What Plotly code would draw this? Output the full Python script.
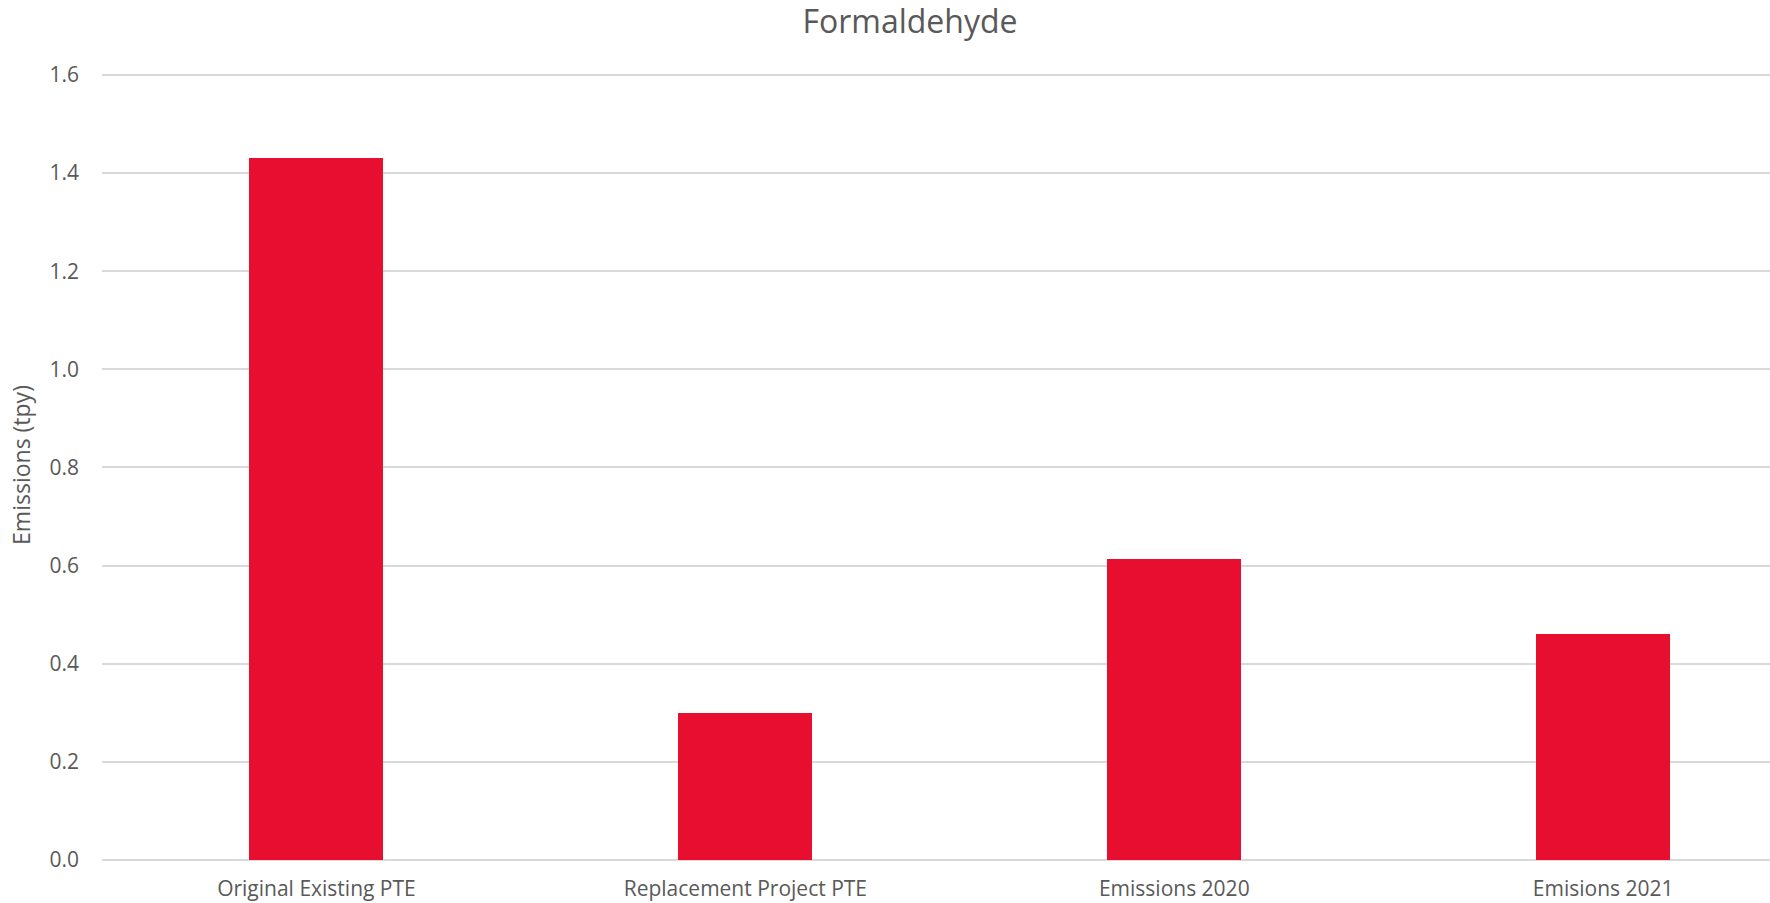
import plotly.graph_objects as go

categories = ["Original Existing PTE", "Replacement Project PTE", "Emissions 2020", "Emisions 2021"]
values = [1.43, 0.30, 0.613, 0.46]
y_ticks = [0.0, 0.2, 0.4, 0.6, 0.8, 1.0, 1.2, 1.4, 1.6]
y_tick_labels = ["0.0", "0.2", "0.4", "0.6", "0.8", "1.0", "1.2", "1.4", "1.6"]

W, H = 1770, 903
GRAY = "#595959"

fig = go.Figure(go.Bar(
    x=list(range(len(categories))),
    y=values,
    width=0.3125,
    marker=dict(color="#E80E30", line=dict(width=0)),
    hoverinfo="y",
))

fig.update_layout(
    width=W, height=H,
    margin=dict(l=102, r=0, t=70, b=43, pad=0, autoexpand=False),
    paper_bgcolor="white", plot_bgcolor="white",
    showlegend=False,
    font=dict(family="Open Sans, sans-serif", color=GRAY),
    title=dict(text="Formaldehyde", xref="container", x=910 / W, xanchor="center",
               yref="container", y=1 - 22 / H, yanchor="middle",
               font=dict(size=32, color=GRAY, family="Open Sans, sans-serif")),
    bargap=0,
)

fig.update_xaxes(
    tickmode="array", tickvals=list(range(len(categories))), ticktext=categories,
    range=[-0.5, 3.389], automargin=False,
    showgrid=False, zeroline=False, showline=False,
    tickfont=dict(size=21, color=GRAY, family="Open Sans, sans-serif"),
    ticklabelstandoff=14,
)

fig.update_yaxes(
    range=[0, 1.61], automargin=False,
    tickmode="array", tickvals=y_ticks, ticktext=y_tick_labels,
    showgrid=True, gridcolor="#D9D9D9", gridwidth=1.5,
    zeroline=True, zerolinecolor="#D9D9D9", zerolinewidth=2,
    showline=False,
    tickfont=dict(size=21, color=GRAY, family="Open Sans, sans-serif"),
    ticklabelstandoff=22,
    title=dict(text="Emissions (tpy)", standoff=12,
               font=dict(size=23, color=GRAY, family="Open Sans, sans-serif")),
)

fig.write_html("out.html", config={"displayModeBar": False},
               post_script="document.body.style.margin='0';document.body.style.overflow='hidden';")
